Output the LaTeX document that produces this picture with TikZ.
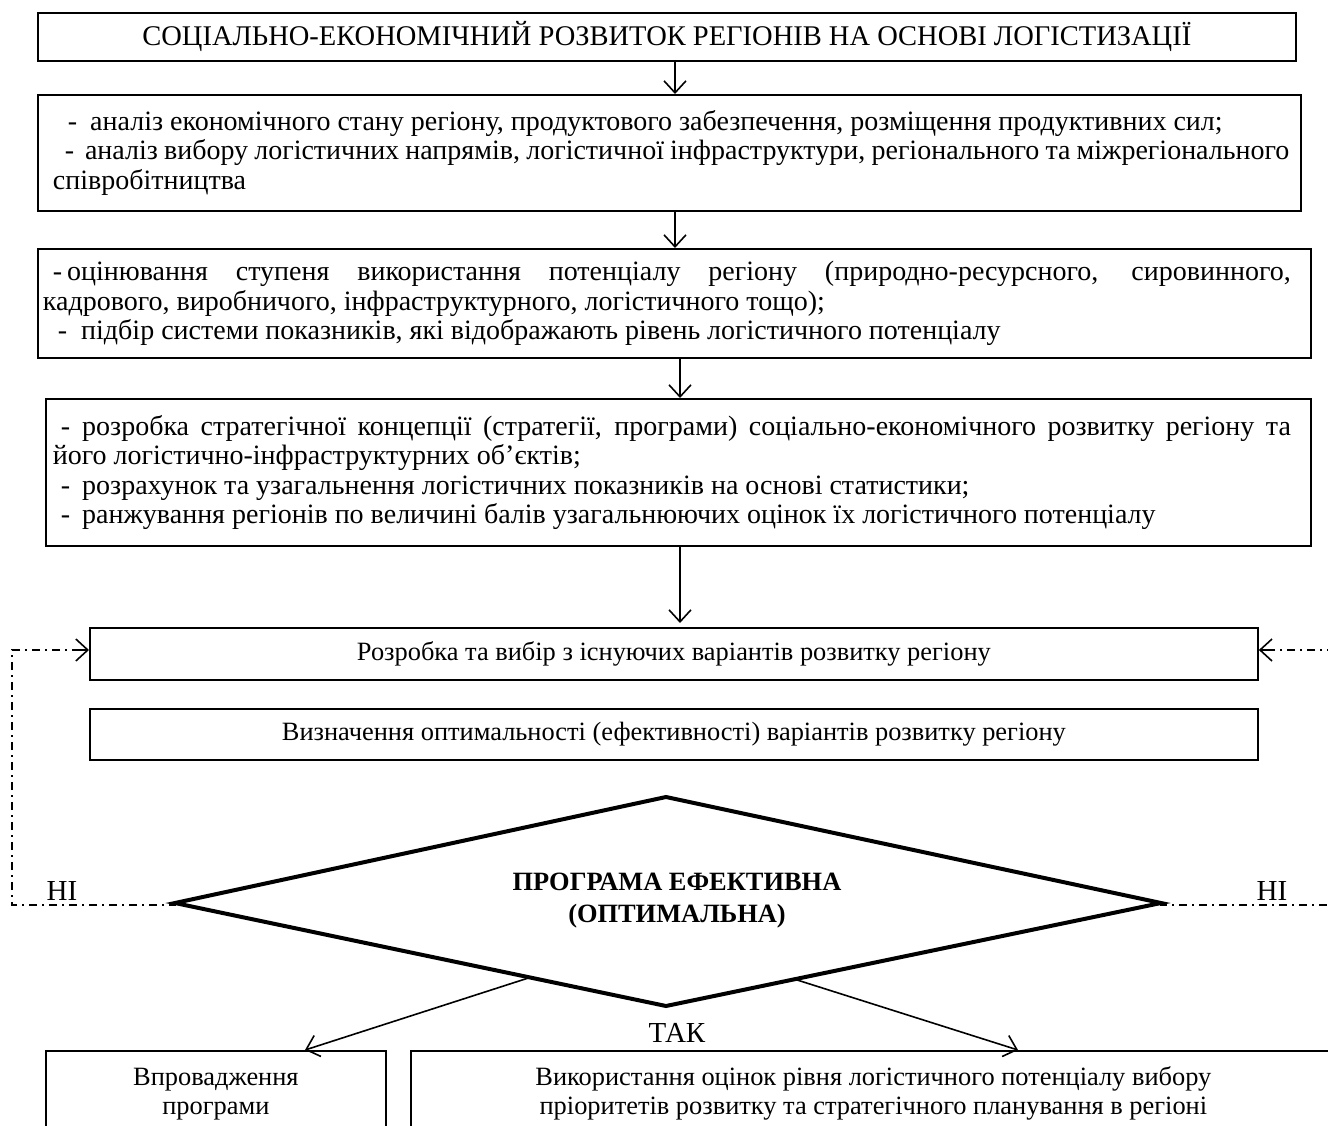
\documentclass[tikz,border=0pt]{standalone}
\usepackage{fontspec}
\setmainfont{Liberation Serif}
\usetikzlibrary{arrows.meta,calc}
\begin{document}
\begin{tikzpicture}[x=1pt,y=-1pt,
  box/.style={draw,line width=1.8pt,inner sep=0pt,anchor=north west,font=\fontsize{28}{29.3}\selectfont},
  jbox/.style={box,align=justify},
  bigtext/.style={font=\fontsize{26.4}{29}\selectfont},
  arr/.style={line width=1.6pt,-{Straight Barb[length=12pt,width=22pt,line width=1.6pt]}},
  dd/.style={line width=1.5pt,dash pattern=on 8pt off 5pt on 2pt off 5pt},
  lbl/.style={font=\fontsize{29}{32}\selectfont,inner sep=0pt},
]
\useasboundingbox (0,0) rectangle (1328,1126);
\clip (0,0) rectangle (1328,1126);

\node[box,minimum width=1258pt,minimum height=48pt,align=center,font=\fontsize{28.5}{32}\selectfont] (b1) at (37,12)
  {СОЦІАЛЬНО-ЕКОНОМІЧНИЙ РОЗВИТОК РЕГІОНІВ НА ОСНОВІ ЛОГІСТИЗАЦІЇ};

\node[jbox,text width=1263pt,minimum height=116pt] (b2) at (37,94)
  {\tolerance=9999\leftskip=15pt\rightskip=17pt minus 15pt
   \hspace*{15pt}-\hspace{13pt minus 6pt}аналіз економічного стану регіону, продуктового забезпечення, розміщення продуктивних сил;\par
   \hspace*{15pt minus 8pt}-\hspace{13pt minus 6pt}аналіз вибору логістичних напрямів, логістичної інфраструктури, регіонального та міжрегіонального\linebreak
   співробітництва\par};

\node[jbox,text width=1273pt,minimum height=109pt] (b3) at (37,248)
  {\tolerance=9999\leftskip=5pt\rightskip=20pt
   \hspace*{10pt}-\hspace{5pt}оцінювання ступеня використання потенціалу регіону (природно-ресурсного, сировинного,\linebreak
   кадрового, виробничого, інфраструктурного, логістичного тощо);\par
   \hspace*{15pt}-\hspace{14pt}підбір системи показників, які відображають рівень логістичного потенціалу\par};

\node[jbox,text width=1265pt,minimum height=147pt] (b4) at (45,398)
  {\tolerance=9999\leftskip=7pt\rightskip=20pt minus 12pt
   \hspace*{8pt}-\hspace{12pt minus 4pt}розробка стратегічної концепції (стратегії, програми) соціально-економічного розвитку регіону та\linebreak
   його логістично-інфраструктурних об’єктів;\par
   \hspace*{8pt}-\hspace{12pt}розрахунок та узагальнення логістичних показників на основі статистики;\par
   \hspace*{8pt}-\hspace{12pt}ранжування регіонів по величині балів узагальнюючих оцінок їх логістичного потенціалу\par};

\node[box,bigtext,minimum width=1168pt,minimum height=52pt,align=center] (b5) at (89,627)
  {Розробка та вибір з існуючих варіантів розвитку регіону};
\node[box,bigtext,minimum width=1168pt,minimum height=51pt,align=center] (b6) at (89,708)
  {Визначення оптимальності (ефективності) варіантів розвитку регіону};

% decision diamond
\coordinate (dT) at (666,797);
\coordinate (dL) at (175,903);
\coordinate (dR) at (1161,903);
\coordinate (dB) at (666,1006);
\draw[line width=4pt,line join=miter] (dT) -- (dR) -- (dB) -- (dL) -- cycle;
\node[inner sep=0pt,align=center,font=\fontsize{26.4}{32}\selectfont\bfseries] (dec) at (677,901)
  {ПРОГРАМА ЕФЕКТИВНА\\(ОПТИМАЛЬНА)};

\node[box,bigtext,minimum width=340pt,minimum height=100pt,align=center] (b7) at (45,1050)
  {\rule{0pt}{35pt}Впровадження\\програми\\[24pt]};
\node[box,bigtext,minimum width=925pt,minimum height=100pt,align=center] (b8) at (410,1050)
  {\rule{0pt}{35pt}Використання оцінок рівня логістичного потенціалу вибору\\пріоритетів розвитку та стратегічного планування в регіоні\\[24pt]};

\node[lbl] (yes) at (677,1033) {ТАК};
\node[lbl,anchor=base] (noL) at (62,900) {НІ};
\node[lbl,anchor=base] (noR) at (1272,900) {НІ};

\draw[arr] (b1.south -| 675,0) -- (b2.north -| 675,0);
\draw[arr] (b2.south -| 675,0) -- (b3.north -| 675,0);
\draw[arr] (b3.south -| 680,0) -- (b4.north -| 680,0);
\draw[arr] (b4.south -| 680,0) -- ($(b5.north -| 680,0)+(0,-4)$);

\draw[arr] ($(dL)!0.723!(dB)$) -- (b7.north -| 305,0);
\draw[arr] ($(dB)!0.26!(dR)$) -- (b8.north -| 1018,0);

\coordinate (lc1) at (12,905);
\coordinate (lc2) at (12,650);
\draw[dd] (dL) -- (dL |- lc1) -- (lc1) -- (lc2) -- ($(b5.west |- lc2)+(-14,0)$);
\draw[arr] ($(b5.west |- lc2)+(-14,0)$) -- (b5.west |- lc2);
\coordinate (rc1) at (1335,905);
\coordinate (rc2) at (1335,650);
\draw[dd] (dR) -- (dR |- rc1) -- (rc1);
\draw[dd] (rc2) -- ($(b5.east |- rc2)+(14,0)$);
\draw[arr] ($(b5.east |- rc2)+(14,0)$) -- (b5.east |- rc2);
\end{tikzpicture}
\end{document}
